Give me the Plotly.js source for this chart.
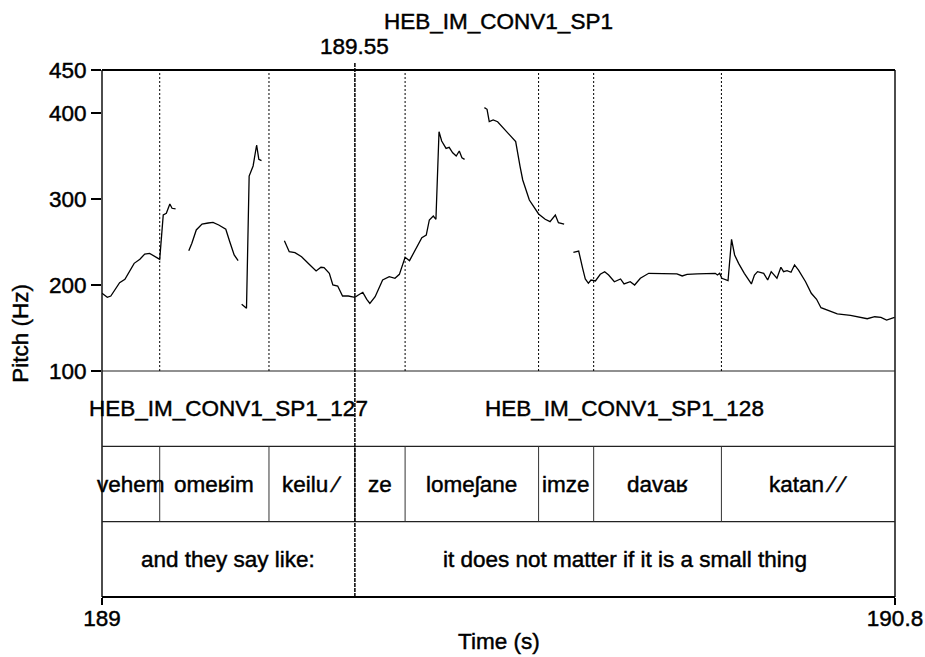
<!DOCTYPE html>
<html>
<head>
<meta charset="utf-8">
<script src="https://cdn.plot.ly/plotly-3.0.1.min.js"></script>
<style>
html,body{margin:0;padding:0;background:#fff;}
#chart{width:925px;height:657px;}
#chart text{stroke:#000;stroke-width:0.45px;}
</style>
</head>
<body>
<div id="chart"></div>
<script>
// ---- Pitch contour (voiced stretches), time in s, pitch in Hz ----
const seg1T = [189.000,189.012,189.020,189.040,189.052,189.063,189.073,189.086,189.097,189.108,189.118,189.131,189.139,189.146,189.154,189.159,189.167];
const seg1F = [190.4,185.7,187.2,202.7,206.6,215.5,225.2,229.9,236.0,236.8,233.7,229.9,281.4,283.4,294.2,289.2,288.4];

const seg2T = [189.197,189.204,189.214,189.227,189.241,189.252,189.265,189.281,189.290,189.300,189.309];
const seg2F = [239.9,248.5,264.0,270.9,272.1,272.9,269.8,264.8,250.3,234.9,228.3];

const seg3T = [189.317,189.328,189.334,189.343,189.351,189.356,189.362];
const seg3F = [177.5,172.9,326.7,338.4,362.8,346.2,344.6];

const seg4T = [189.414,189.425,189.438,189.453,189.472,189.486,189.497,189.504,189.516,189.524,189.535,189.546,189.559,189.574,189.581,189.592,189.601,189.608,189.620,189.637,189.652,189.665,189.675,189.688,189.698,189.711,189.726,189.736,189.743,189.752,189.758,189.765,189.771,189.781,189.788,189.796,189.804,189.811,189.817,189.823];
const seg4F = [251.5,238.7,237.6,232.9,223.3,216.3,220.6,220.2,213.6,200.0,198.8,187.2,187.2,185.7,188.0,191.5,183.4,178.7,186.4,205.8,209.7,207.8,212.4,232.2,228.3,240.7,255.0,258.1,275.6,280.2,276.4,378.3,367.4,358.9,360.1,353.8,350.0,355.8,348.0,346.1];

const seg5T = [189.868,189.874,189.879,189.888,189.898,189.911,189.924,189.939,189.949,189.955,189.970,189.991,190.006,190.017,190.029,190.036,190.049];
const seg5F = [406.2,404.3,389.9,391.9,389.9,382.2,375.6,366.7,337.6,322.1,298.8,282.6,276.4,273.6,281.4,272.4,270.9];

const seg6T = [190.070,190.082,190.091,190.097,190.104,190.110,190.120,190.131,190.141,190.150,190.163,190.177,190.185,190.199,190.209,190.222,190.241,190.260,190.282,190.305,190.317,190.328,190.351,190.373,190.392,190.397,190.402,190.407,190.421,190.429,190.436,190.445,190.458,190.474,190.481,190.488,190.502,190.511,190.519,190.532,190.541,190.547,190.555,190.564,190.572,190.581,190.597,190.610,190.622,190.632,190.650,190.669,190.699,190.722,190.737,190.754,190.768,190.781,190.790,190.799];
const seg6F = [238.0,239.5,219.4,207.0,202.0,205.8,204.7,212.5,215.5,211.6,203.8,207.0,201.2,203.8,200.0,207.8,213.6,213.6,213.6,213.0,210.5,212.4,213.0,213.6,213.6,211.6,213.6,207.8,205.0,253.1,234.9,225.2,213.6,201.2,211.6,215.5,213.6,205.8,215.5,207.8,220.6,215.5,216.7,214.8,223.3,217.4,203.8,190.4,183.4,173.6,170.1,166.3,164.8,162.4,160.8,163.1,162.4,159.3,161.3,162.4];

// ---- Axes ----
const timeStart = 189;
const timeEnd = 190.8;
const timeTickLabels = ["189", "190.8"];
const pitchMin = 100;
const pitchMax = 450;
const pitchTicks = [100, 200, 300, 400, 450];

// ---- TextGrid tiers ----
const cursorTime = 189.574;
const cursorLabel = "189.55";
const phraseBounds = [189.574];
const phraseLabels = ["HEB_IM_CONV1_SP1_127", "HEB_IM_CONV1_SP1_128"];
const wordBounds = [189.131, 189.379, 189.574, 189.688, 189.991, 190.116, 190.406];
const wordLabels = ["vehem", "omeʁim", "keilu ∕", "ze", "lomeʃane", "imze", "davaʁ", "katan ∕ ∕"];
const glossBounds = [189.574];
const glossLabels = ["and they say like:", "it does not matter if it is a small thing"];

const FONT = "Liberation Sans, Arial, Helvetica, sans-serif";
const FS = 22.5;

const segs = [[seg1T,seg1F],[seg2T,seg2F],[seg3T,seg3F],[seg4T,seg4F],[seg5T,seg5F],[seg6T,seg6F]];
const traces = segs.map(s => ({
  x: s[0], y: s[1], type: 'scatter', mode: 'lines',
  line: {color: '#000', width: 1.3}, hoverinfo: 'skip', showlegend: false,
  xaxis: 'x', yaxis: 'y'
}));
traces.push({x: [timeStart], y: [0], type: 'scatter', mode: 'markers', marker: {opacity: 0}, xaxis: 'x', yaxis: 'y2', hoverinfo: 'skip', showlegend: false});

const PD = 0.42884; // pitch domain bottom
const shapes = [];
const annotations = [];

// frame
shapes.push({type:'line', xref:'paper', yref:'paper', x0:0, x1:1, y0:1, y1:1, line:{color:'#000', width:2}});
shapes.push({type:'line', xref:'paper', yref:'paper', x0:0, x1:1, y0:0, y1:0, line:{color:'#000', width:2}});
shapes.push({type:'line', xref:'paper', yref:'paper', x0:0, x1:0, y0:0, y1:1, line:{color:'#000', width:1.4}});
shapes.push({type:'line', xref:'paper', yref:'paper', x0:1, x1:1, y0:0, y1:1, line:{color:'#000', width:1.4}});
[PD, PD*2/3, PD/3].forEach(yy => {
  shapes.push({type:'line', xref:'paper', yref:'paper', x0:0, x1:1, y0:yy, y1:yy, line:{color:'#222', width:1.2}});
});

wordBounds.forEach(t => {
  if (Math.abs(t - cursorTime) > 1e-6) {
    shapes.push({type:'line', xref:'x', yref:'paper', x0:t, x1:t, y0:PD, y1:1, line:{color:'#000', width:1, dash:'2px,2px'}});
  }
  shapes.push({type:'line', xref:'x', yref:'y2', x0:t, x1:t, y0:1, y1:2, line:{color:'#333', width:1}});
});
shapes.push({type:'line', xref:'x', yref:'paper', x0:cursorTime, x1:cursorTime, y0:0, y1:1.0133, line:{color:'#000', width:1.5, dash:'4px,1px'}});

function tierLabels(bounds, labels, tierCenter) {
  const edges = [timeStart].concat(bounds, [timeEnd]);
  labels.forEach((lab, i) => {
    annotations.push({x: (edges[i] + edges[i+1]) / 2, y: tierCenter, xref: 'x', yref: 'y2',
      text: lab, showarrow: false, xanchor: 'center', yanchor: 'middle',
      font: {family: FONT, size: FS, color: '#000'}});
  });
}
tierLabels(phraseBounds, phraseLabels, 2.5);
tierLabels(wordBounds, wordLabels, 1.5);
tierLabels(glossBounds, glossLabels, 0.5);

annotations.push({x: cursorTime, y: 1.045, xref: 'x', yref: 'paper', text: cursorLabel, showarrow: false,
  xanchor: 'center', yanchor: 'middle', font: {family: FONT, size: FS, color: '#000'}});
annotations.push({x: -0.103, y: 0.5, xref: 'paper', yref: 'paper', text: 'Pitch (Hz)', textangle: -90, showarrow: false,
  xanchor: 'center', yanchor: 'middle', font: {family: FONT, size: FS, color: '#000'}});
annotations.push({x: 0.5, y: -0.084, xref: 'paper', yref: 'paper', text: 'Time (s)', showarrow: false,
  xanchor: 'center', yanchor: 'middle', font: {family: FONT, size: FS, color: '#000'}});

const layout = {
  width: 925, height: 657,
  margin: {l: 102, r: 30, t: 70, b: 60},
  paper_bgcolor: '#fff', plot_bgcolor: '#fff',
  title: {text: 'HEB_IM_CONV1_SP1', x: 0.5, xref: 'paper', y: 1 - 21/657, yref: 'container', xanchor: 'center', yanchor: 'middle',
    font: {family: FONT, size: FS, color: '#000'}},
  xaxis: {range: [timeStart, timeEnd], anchor: 'y2', showgrid: false, zeroline: false, showline: false,
    tickmode: 'array', tickvals: [timeStart, timeEnd], ticktext: timeTickLabels,
    ticks: 'outside', ticklen: 7, tickwidth: 1.4, tickcolor: '#000', ticklabelstandoff: -6,
    tickfont: {family: FONT, size: FS, color: '#000'}, fixedrange: true},
  yaxis: {range: [pitchMin, pitchMax], domain: [PD, 1], showgrid: false, zeroline: false, showline: false,
    tickmode: 'array', tickvals: pitchTicks, ticktext: pitchTicks.map(String),
    ticks: 'outside', ticklen: 10, tickwidth: 1.2, tickcolor: '#000',
    tickfont: {family: FONT, size: FS, color: '#000'}, fixedrange: true},
  yaxis2: {range: [0, 3], domain: [0, PD], showgrid: false, zeroline: false, showline: false,
    showticklabels: false, ticks: '', fixedrange: true},
  shapes: shapes,
  annotations: annotations,
  showlegend: false
};

Plotly.newPlot('chart', traces, layout, {staticPlot: true, displayModeBar: false});
</script>
</body>
</html>
